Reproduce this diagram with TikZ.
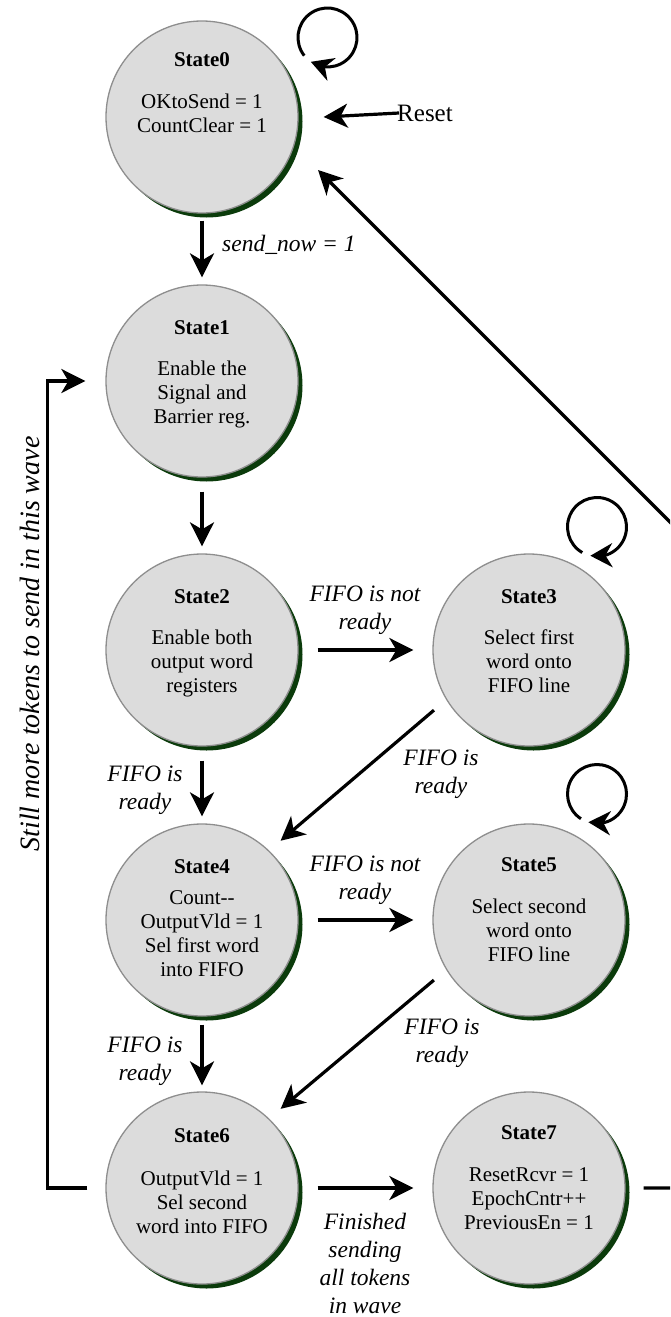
\documentclass[tikz,border=0pt]{standalone}
\usepackage{fontspec}
\setmainfont{Liberation Serif}
\usetikzlibrary{arrows.meta,bending,shadows,calc}
\definecolor{statefill}{HTML}{DCDCDC}
\definecolor{stateedge}{HTML}{8E8E8E}
\definecolor{shadowgreen}{HTML}{0B3B0B}
\tikzset{
  state/.style={circle, minimum size=192pt, inner sep=0pt, fill=statefill,
    draw=stateedge, line width=1.3pt,
    drop shadow={shadow xshift=4.5pt, shadow yshift=-4.5pt, fill=shadowgreen, opacity=1}},
  stitle/.style={font=\fontsize{21}{24}\selectfont\bfseries, inner sep=0pt},
  sbody/.style={font=\fontsize{21}{24}\selectfont, align=center, inner sep=0pt, anchor=north},
  elabel/.style={font=\fontsize{23.5}{28}\selectfont\itshape, align=center, inner sep=0pt},
  arr/.style={line width=3.2pt, -{Stealth[length=24pt,width=24pt,inset=7pt]}},
  looparr/.style={line width=3pt, -{Stealth[length=22pt,width=24pt,inset=7pt,flex]}},
}
\begin{document}
\begin{tikzpicture}[x=1pt,y=1pt]
  \path[use as bounding box] (0,0) rectangle (670,-1317);
  \clip (0,0) rectangle (670,-1317);

  % states
  \node[state] (s0) at (202,-117) {};
  \node[state] (s1) at (202,-381) {};
  \node[state] (s2) at (202,-650) {};
  \node[state] (s4) at (202,-920) {};
  \node[state] (s6) at (202,-1188) {};
  \node[state] (s3) at (529,-650) {};
  \node[state] (s5) at (529,-920) {};
  \node[state] (s7) at (529,-1188) {};

  % state titles and actions
  \node[stitle] (s0t) at ([yshift=57pt]s0.center) {State0};
  \node[sbody]  (s0b) at ([yshift=23pt]s0.center) {OKtoSend = 1\\CountClear = 1};
  \node[stitle] (s1t) at ([yshift=53pt]s1.center) {State1};
  \node[sbody]  (s1b) at ([yshift=20.5pt]s1.center) {Enable the\\Signal and\\Barrier reg.};
  \node[stitle] (s2t) at ([yshift=53pt]s2.center) {State2};
  \node[sbody]  (s2b) at ([yshift=20.5pt]s2.center) {Enable both\\output word\\registers};
  \node[stitle] (s3t) at ([yshift=53pt]s3.center) {State3};
  \node[sbody]  (s3b) at ([yshift=20.5pt]s3.center) {Select first\\word onto\\FIFO line};
  \node[stitle] (s4t) at ([yshift=53pt]s4.center) {State4};
  \node[sbody]  (s4b) at ([yshift=29.5pt]s4.center) {Count-{}-\\OutputVld = 1\\Sel first word\\into FIFO};
  \node[stitle] (s5t) at ([yshift=55pt]s5.center) {State5};
  \node[sbody]  (s5b) at ([yshift=21.5pt]s5.center) {Select second\\word onto\\FIFO line};
  \node[stitle] (s6t) at ([yshift=52pt]s6.center) {State6};
  \node[sbody]  (s6b) at ([yshift=17.5pt]s6.center) {OutputVld = 1\\Sel second\\word into FIFO};
  \node[stitle] (s7t) at ([yshift=55pt]s7.center) {State7};
  \node[sbody]  (s7b) at ([yshift=20.5pt]s7.center) {ResetRcvr = 1\\EpochCntr++\\PreviousEn = 1};

  % reset input
  \node[font=\fontsize{25}{28}\selectfont, inner sep=0pt] (reset) at (425,-113) {Reset};
  \draw[arr] ([xshift=2pt]reset.west) -- ([xshift=25pt]s0.east);

  % self loops
  \coordinate (l0) at ([shift={(125.5pt,79.5pt)}]s0.center);
  \coordinate (l3) at ([shift={(68pt,123pt)}]s3.center);
  \coordinate (l5) at ([shift={(68pt,126pt)}]s5.center);
  \draw[looparr] ([shift={(218:29.5pt)}]l0) arc[start angle=218, end angle=-124.5, radius=29.5pt];
  \draw[looparr] ([shift={(240:29.5pt)}]l3) arc[start angle=240, end angle=-103, radius=29.5pt];
  \draw[looparr] ([shift={(237:29.5pt)}]l5) arc[start angle=237, end angle=-107, radius=29.5pt];

  % straight transitions
  \draw[arr, shorten <=7pt, shorten >=7pt] (s0.south) -- (s1.north);
  \draw[arr, shorten <=14pt, shorten >=7pt] (s1.south) -- (s2.north);
  \draw[arr, shorten <=14pt, shorten >=7pt] (s2.south) -- (s4.north);
  \draw[arr, shorten <=8pt, shorten >=6pt] (s4.south) -- (s6.north);
  \draw[arr, shorten <=19pt, shorten >=19pt] (s2.east) -- (s3.west);
  \draw[arr, shorten <=19pt, shorten >=19pt] (s4.east) -- (s5.west);
  \draw[arr, shorten <=19pt, shorten >=19pt] (s6.east) -- (s7.west);
  \draw[arr, shorten <=16pt, shorten >=15pt] (s3.211) -- (s4.46);
  \draw[arr, shorten <=16pt, shorten >=15pt] (s5.211) -- (s6.46);

  % loop back to State1
  \draw[arr] ([xshift=-18pt]s6.west) -| ([xshift=-58pt]s1.west) -- ([xshift=-20pt]s1.west);

  % return from State7 to State0 (runs off the right edge)
  \coordinate (ret1) at (700,-1188);
  \coordinate (ret2) at (700,-552);
  \draw[arr] ([xshift=18pt]s7.east) -- (ret1) -- (ret2) -- ([shift={(116pt,-53pt)}]s0.center);

  % transition labels
  \node[elabel, anchor=base west] (lsend) at (222,-251) {send\_now = 1};
  \node[elabel] (l23) at (365,-610) {FIFO is not\\ready};
  \node[elabel] (l24) at (145,-790) {FIFO is\\ready};
  \node[elabel] (l34) at (441,-774) {FIFO is\\ready};
  \node[elabel] (l45) at (365,-880) {FIFO is not\\ready};
  \node[elabel] (l56) at (442,-1043) {FIFO is\\ready};
  \node[elabel] (l46) at (145,-1061) {FIFO is\\ready};
  \node[elabel] (l67) at (365,-1263) {Finished\\sending\\all tokens\\in wave};
  \node[elabel, rotate=90, font=\fontsize{28}{30}\selectfont\itshape] (lwave) at (30,-644) {Still more tokens to send in this wave};
\end{tikzpicture}
\end{document}
